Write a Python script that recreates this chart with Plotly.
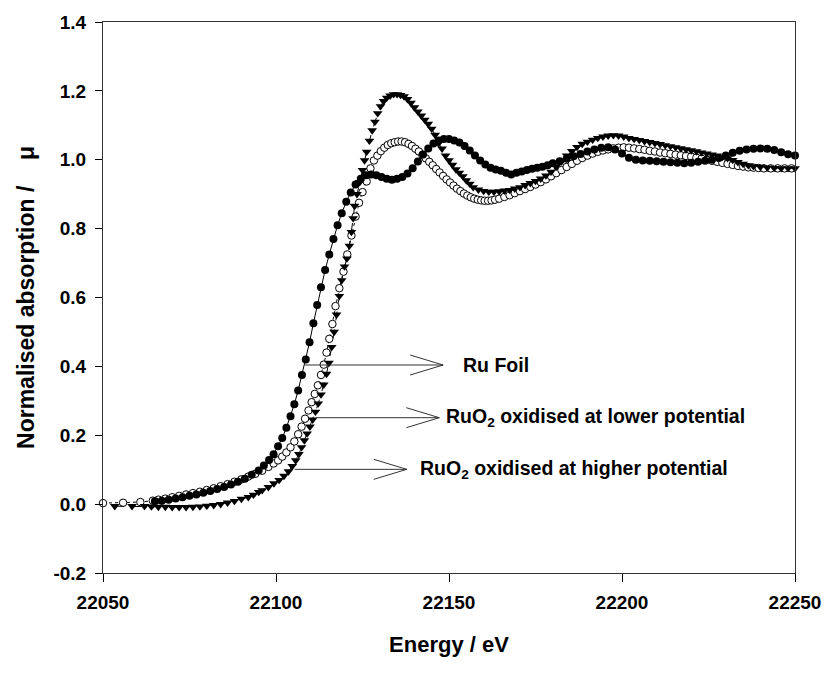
import plotly.graph_objects as go

# ---------------- data ----------------
ru_foil_E = [22065, 22067, 22069, 22071, 22073, 22075, 22077, 22079, 22081, 22083, 22085, 22087, 22089,
             22091, 22093, 22095, 22096.5, 22098, 22099.3, 22100.6, 22101.8, 22103, 22104.2, 22105.3,
             22106.4, 22107.5, 22108.6, 22109.7, 22110.8, 22111.9, 22113, 22114.2, 22115.4, 22116.6,
             22117.8, 22119, 22120.3, 22121.6, 22123, 22124.5, 22126, 22127.5, 22129, 22130.5, 22132,
             22133.5, 22135, 22136.5, 22138, 22139.5, 22141, 22142.5, 22144, 22145.5, 22147, 22148.5,
             22150, 22151.5, 22153, 22154.5, 22156, 22157.5, 22159, 22160.5, 22162, 22163.5, 22165,
             22166.5, 22168, 22169.5, 22171, 22172.5, 22174, 22175.5, 22177, 22178.5, 22180, 22182,
             22184, 22186, 22188, 22190, 22192, 22194, 22196, 22198, 22200, 22202, 22204, 22206, 22208,
             22210, 22212, 22214, 22216, 22218, 22220, 22222, 22224, 22226, 22228, 22230, 22232, 22234,
             22236, 22238, 22240, 22242, 22244, 22246, 22248, 22250]
ru_foil_mu = [0.008, 0.010, 0.013, 0.016, 0.020, 0.024, 0.028, 0.033, 0.038, 0.044, 0.050, 0.057, 0.065,
              0.074, 0.085, 0.098, 0.112, 0.128, 0.145, 0.168, 0.192, 0.222, 0.255, 0.290,
              0.330, 0.375, 0.420, 0.470, 0.525, 0.578, 0.630, 0.680, 0.725, 0.770,
              0.810, 0.845, 0.878, 0.905, 0.928, 0.945, 0.955, 0.957, 0.955, 0.950, 0.945,
              0.942, 0.945, 0.950, 0.960, 0.975, 0.995, 1.015, 1.033, 1.047, 1.056, 1.060,
              1.060, 1.056, 1.050, 1.040, 1.027, 1.012, 0.998, 0.986, 0.977, 0.972, 0.968,
              0.962, 0.957, 0.962, 0.966, 0.970, 0.974, 0.977, 0.980, 0.984, 0.990, 0.996,
              1.003, 1.010, 1.017, 1.024, 1.030, 1.035, 1.036, 1.030, 1.018, 1.006, 1.000, 0.998, 0.997,
              0.996, 0.994, 0.993, 0.991, 0.990, 0.991, 0.994, 0.997, 1.000, 1.005, 1.012, 1.020, 1.026,
              1.030, 1.032, 1.033, 1.032, 1.028, 1.022, 1.016, 1.012]

lower_E = [22050, 22055.8, 22060.8, 22064.4, 22066, 22068, 22070, 22072, 22074, 22076, 22078, 22080,
           22082, 22084, 22086, 22088, 22090, 22092, 22094, 22096, 22097.8, 22099.3, 22100.6, 22101.8,
           22103, 22104.2, 22105.3, 22106.4, 22107.4, 22108.4, 22109.4, 22110.3, 22111.2, 22112.1,
           22113, 22113.8, 22114.6, 22115.4, 22116.3, 22117.2, 22118.3, 22119.5, 22120.6, 22121.8,
           22123, 22124, 22125, 22126.2, 22127.3, 22128.3, 22129.3, 22130.3, 22131.3, 22132.3,
           22133.3, 22134.3, 22135.3, 22136.3, 22137.3, 22138.3, 22139.3, 22140.3, 22141.3, 22142.3,
           22143.3, 22144.3, 22145.3, 22146.3, 22147.3, 22148.3, 22149.3, 22150.3, 22151.3, 22152.3,
           22153.3, 22154.3, 22155.3, 22156.3, 22157.3, 22158.3, 22159.3, 22160.3, 22161.3, 22162.3,
           22163.3, 22164.5, 22166, 22167.5, 22169, 22170.5, 22172, 22173.5, 22175, 22176.5, 22178,
           22179.5, 22181, 22182.5, 22184, 22185.5, 22187, 22188.5, 22190, 22191.5, 22193, 22194.5,
           22196, 22197.5, 22199, 22200.5, 22202, 22203.5, 22205, 22206.5, 22208, 22209.5, 22211,
           22212.5, 22214, 22215.5, 22217, 22218.5, 22220, 22221.5, 22223, 22224.5, 22226, 22227.5,
           22229, 22230.5, 22232, 22233.5, 22235, 22236.5, 22238, 22239.5, 22241, 22243, 22245, 22247,
           22249]
lower_mu = [0.003, 0.004, 0.006, 0.010, 0.013, 0.016, 0.020, 0.024, 0.028, 0.032, 0.036, 0.041,
            0.046, 0.052, 0.058, 0.065, 0.072, 0.080, 0.088, 0.097, 0.108, 0.118, 0.127, 0.138,
            0.150, 0.165, 0.182, 0.203, 0.225, 0.248, 0.272, 0.296, 0.320, 0.345,
            0.375, 0.405, 0.440, 0.480, 0.523, 0.575, 0.627, 0.675, 0.725, 0.780,
            0.835, 0.875, 0.906, 0.937, 0.975, 0.998, 1.012, 1.025, 1.035, 1.043,
            1.048, 1.051, 1.053, 1.053, 1.051, 1.046, 1.040, 1.032, 1.024, 1.014,
            1.004, 0.994, 0.984, 0.973, 0.963, 0.953, 0.943, 0.934, 0.925, 0.916,
            0.909, 0.902, 0.896, 0.891, 0.887, 0.884, 0.882, 0.881, 0.881, 0.882,
            0.884, 0.887, 0.892, 0.897, 0.903, 0.909, 0.915, 0.921, 0.928, 0.935, 0.943,
            0.952, 0.961, 0.970, 0.979, 0.988, 0.997, 1.005, 1.012, 1.018, 1.023, 1.027,
            1.030, 1.033, 1.035, 1.036, 1.035, 1.033, 1.031, 1.029, 1.026, 1.024, 1.021,
            1.019, 1.017, 1.015, 1.013, 1.011, 1.009, 1.006, 1.003, 1.000, 0.997, 0.994,
            0.991, 0.988, 0.985, 0.982, 0.980, 0.978, 0.977, 0.976, 0.975, 0.975, 0.975, 0.975,
            0.975]

higher_E = [22053.4, 22058.4, 22062, 22064, 22066, 22068, 22070, 22072, 22074, 22076, 22078, 22080,
            22082, 22084, 22086, 22088, 22090, 22092, 22093.5, 22095, 22096, 22097.8, 22099.4,
            22100.9, 22102.3, 22103.6, 22104.7, 22105.7, 22106.6, 22107.4, 22108.2, 22109, 22109.8,
            22110.6, 22111.4, 22112.2, 22113, 22113.8, 22114.6, 22115.3, 22116.1, 22116.8, 22117.5,
            22118.3, 22119, 22119.8, 22120.5, 22121.2, 22121.8, 22122.3, 22122.7, 22123.4, 22124.2,
            22125, 22125.6, 22126.2, 22127, 22127.8, 22128.6, 22129.4, 22130.2, 22131.1, 22132,
            22133, 22134, 22135, 22136, 22137, 22138, 22139, 22140, 22141, 22142, 22143, 22144,
            22145, 22146, 22147, 22148, 22149, 22150, 22151, 22152, 22153, 22154, 22155, 22156,
            22157, 22158.5, 22160, 22161.5, 22163, 22164.5, 22166, 22167.5, 22169, 22170.5, 22172,
            22173.5, 22175, 22176.5, 22178, 22179.5, 22181, 22182.5, 22184, 22185.5, 22187, 22188.5,
            22190, 22191.5, 22193, 22194.5, 22196, 22197.5, 22199, 22200.5, 22202, 22203.5, 22205,
            22206.5, 22208, 22209.5, 22211, 22212.5, 22214, 22215.5, 22217, 22218.5, 22220, 22221.5,
            22223, 22224.5, 22226, 22227.5, 22229, 22230.5, 22232, 22233.5, 22235, 22236.5, 22238,
            22240, 22242, 22244, 22246, 22248, 22250]
higher_mu = [-0.006, -0.006, -0.006, -0.007, -0.008, -0.008, -0.009, -0.009, -0.009, -0.008, -0.007, -0.005,
             -0.003, 0.000, 0.004, 0.009, 0.015, 0.020, 0.027, 0.035, 0.040, 0.049, 0.060,
             0.070, 0.082, 0.095, 0.110, 0.127, 0.145, 0.165, 0.185, 0.205, 0.225,
             0.245, 0.268, 0.292, 0.318, 0.347, 0.378, 0.410, 0.456, 0.500, 0.550,
             0.604, 0.650, 0.690, 0.713, 0.750, 0.790, 0.830, 0.866, 0.900, 0.935,
             0.970, 0.998, 1.023, 1.055, 1.085, 1.110, 1.135, 1.155, 1.170, 1.180,
             1.186, 1.190, 1.190, 1.188, 1.184, 1.176, 1.165, 1.152, 1.140, 1.128, 1.116, 1.104,
             1.090, 1.072, 1.048, 1.032, 1.012, 0.998, 0.985, 0.972, 0.962, 0.952, 0.940, 0.930,
             0.920, 0.913, 0.909, 0.907, 0.907, 0.908, 0.910, 0.912, 0.916, 0.920, 0.926,
             0.932, 0.938, 0.945, 0.954, 0.965, 0.980, 0.995, 1.012, 1.025, 1.037, 1.046,
             1.052, 1.058, 1.063, 1.067, 1.070, 1.071, 1.070, 1.067, 1.063, 1.060, 1.057,
             1.054, 1.051, 1.048, 1.045, 1.042, 1.039, 1.036, 1.033, 1.030, 1.027, 1.024,
             1.021, 1.018, 1.015, 1.012, 1.008, 1.004, 0.999, 0.993, 0.988, 0.984, 0.981,
             0.979, 0.977, 0.976, 0.975, 0.975, 0.975]

ann_labels = ["Ru Foil", "RuO<sub>2</sub> oxidised at lower potential",
              "RuO<sub>2</sub> oxidised at higher potential"]
ann_y = [0.404, 0.251, 0.101]
ann_x_start = [22108.3, 22111.6, 22105.4]
ann_x_end = [22148.3, 22147.2, 22137.8]
ann_text_x = [22153.6, 22148.6, 22140.9]

x_ticks = [22050, 22100, 22150, 22200, 22250]
y_ticks = [-0.2, 0.0, 0.2, 0.4, 0.6, 0.8, 1.0, 1.2, 1.4]

FONT = "Liberation Sans, Arial, sans-serif"
NB = "\u00a0"

fig = go.Figure()
fig.add_trace(go.Scatter(
    x=lower_E, y=lower_mu, mode="lines+markers", name="RuO2 lower",
    line=dict(color="black", width=1, dash="dot"),
    marker=dict(symbol="circle", size=7.5, color="white", line=dict(color="black", width=1)),
    cliponaxis=False))
fig.add_trace(go.Scatter(
    x=ru_foil_E, y=ru_foil_mu, mode="lines+markers", name="Ru Foil",
    line=dict(color="black", width=1),
    marker=dict(symbol="circle", size=8, color="black"),
    cliponaxis=False))
fig.add_trace(go.Scatter(
    x=higher_E, y=higher_mu, mode="lines+markers", name="RuO2 higher",
    line=dict(color="black", width=1, dash="dash"),
    marker=dict(symbol="triangle-down", size=8.5, color="black"),
    cliponaxis=False))

for lab, yv, xs, xe, xt in zip(ann_labels, ann_y, ann_x_start, ann_x_end, ann_text_x):
    fig.add_shape(type="line", xref="x", yref="y", x0=xs, x1=xe, y0=yv, y1=yv,
                  line=dict(color="#333333", width=1))
    fig.add_shape(type="path", xref="x", yref="y", xsizemode="pixel", ysizemode="pixel",
                  xanchor=xe, yanchor=yv, path="M -33,10 L 0,0 L -33,-10",
                  line=dict(color="#333333", width=1))
    fig.add_annotation(x=xt, y=yv, xref="x", yref="y", text="<b>" + lab + "</b>",
                       showarrow=False, xanchor="left", yanchor="middle",
                       font=dict(family=FONT, size=19.5, color="black"))

fig.update_layout(
    width=833, height=675,
    margin=dict(l=103, r=31, t=13, b=102),
    paper_bgcolor="white", plot_bgcolor="white",
    showlegend=False,
    font=dict(family=FONT, color="black"),
    xaxis=dict(
        range=[22050, 22250], tickvals=x_ticks, ticktext=[str(v) for v in x_ticks],
        ticks="outside", ticklen=8, tickwidth=1, tickcolor="black",
        showline=True, linecolor="#333333", linewidth=1, mirror=True,
        showgrid=False, zeroline=False, ticklabelstandoff=4,
        tickfont=dict(family=FONT, size=19, color="black", weight="bold"),
        title=dict(text="<b>Energy / eV</b>", font=dict(family=FONT, size=22), standoff=24),
    ),
    yaxis=dict(
        range=[-0.2, 1.4], tickvals=y_ticks, ticktext=["%.1f" % v for v in y_ticks],
        ticks="outside", ticklen=7, tickwidth=1, tickcolor="black",
        showline=True, linecolor="#333333", linewidth=1, mirror=True,
        showgrid=False, zeroline=False, ticklabelstandoff=5,
        tickfont=dict(family=FONT, size=19, color="black", weight="bold"),
        title=dict(text="<b>Normalised absorption /" + NB * 4 + "\u03bc</b>",
                   font=dict(family=FONT, size=23), standoff=12),
    ),
)

fig.write_html("out.html")
